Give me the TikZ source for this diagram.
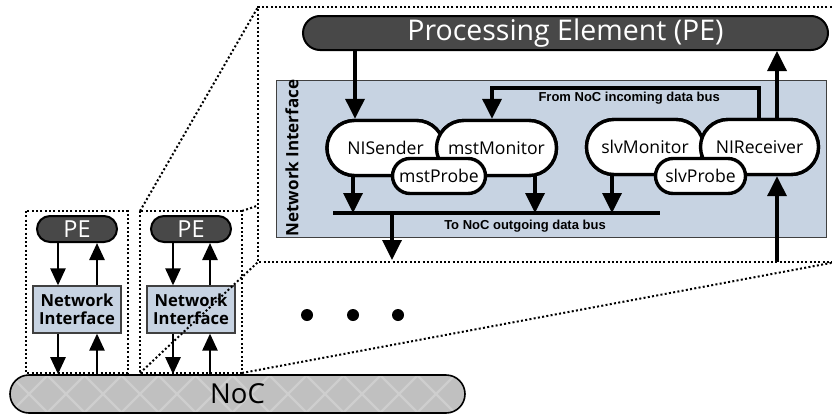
\documentclass[tikz,border=0pt]{standalone}
\usepackage{fontspec}
\setmainfont{Open Sans}
\newfontfamily\labelfont{Liberation Sans}
\usetikzlibrary{arrows.meta,shapes.misc}

\definecolor{pedark}{RGB}{72,72,72}
\definecolor{niblue}{RGB}{199,211,226}
\definecolor{nocgray}{RGB}{192,192,192}
\definecolor{nochatch}{RGB}{206,206,206}

\begin{document}
\begin{tikzpicture}[x=1pt,y=-1pt,
  dots/.style={line width=2pt,dash pattern=on 2pt off 2.3pt},
  pill/.style={rounded rectangle,draw=black,line width=3.4pt,fill=white,inner sep=0pt,
    font=\fontsize{17.6}{20}\selectfont},
  pebox/.style={rounded rectangle,draw=black,line width=2pt,fill=pedark,text=white,inner sep=0pt},
  nibox/.style={rectangle,draw=black!75,line width=1.2pt,fill=niblue,inner sep=0pt},
  bigarr/.style={line width=3.5pt,-{Triangle[width=19pt,length=20pt]}},
  smallarr/.style={line width=2.5pt,-{Triangle[width=15pt,length=17pt]}},
  buslabel/.style={font=\labelfont\bfseries\fontsize{13}{15}\selectfont,inner sep=0pt},
  smallni/.style={nibox,minimum width=88,minimum height=47,align=center,
    font=\bfseries\fontsize{16.6}{17.5}\selectfont},
  smallpe/.style={pebox,minimum width=80,minimum height=26,font=\fontsize{23.5}{25}\selectfont},
]
\clip (0,0) rectangle (832,415);

% zoom line running behind the enlarged view
\draw[dots] (242,211) -- (836,7);

% enlarged view of one tile
\fill[white] (258,7) rectangle (836,262);
\draw[dots] (836,7) -- (258,7) -- (258,262) -- (836,262);

\node[pebox,minimum width=525,minimum height=34,font=\fontsize{28.5}{30}\selectfont]
  (PE) at (565.5,33) {Processing Element (PE)};

\node[nibox,minimum width=550,minimum height=157,anchor=north west] (NI) at (276,80) {};
\node[rotate=90,font=\bfseries\fontsize{17}{19}\selectfont] (nilabel) at (292,158) {Network Interface};

% named positions of the connectors
\coordinate (busL) at (333,213);
\coordinate (busR) at (660,213);
\coordinate (xin) at (355,0);
\coordinate (fbR) at (759,88);
\coordinate (fbL) at (492,88);
\coordinate (xup) at (777,0);
\coordinate (inB) at (777,262);
\coordinate (d1) at (353,213);
\coordinate (d2) at (535,213);
\coordinate (d3) at (612,213);
\coordinate (busOut) at (392,260);

% pills are placed first so the connectors can refer to them
\path
  node[pill,minimum width=117,minimum height=55] (snd)  at (385.5,148) {NISender}
  node[pill,minimum width=120,minimum height=55] (mmon) at (496.5,148) {mstMonitor}
  node[pill,minimum width=117,minimum height=55] (smon) at (645,147) {slvMonitor}
  node[pill,minimum width=118,minimum height=55] (rcv)  at (759.5,147) {NIReceiver};

% data bus towards the NoC
\draw[line width=4.3pt] (busL) -- (busR);
\draw[bigarr] (PE.south -| xin) -- (snd.north -| xin);
\draw[bigarr] (rcv.center -| fbR) -- (fbR) -- (fbL) -- (mmon.north -| fbL);
\draw[bigarr] (rcv.center -| xup) -- (PE.south -| xup);
\draw[bigarr] (inB) -- (rcv.south -| inB);
\draw[bigarr] (snd.center -| d1) -- (d1);
\draw[bigarr] (mmon.center -| d2) -- (d2);
\draw[bigarr] (smon.center -| d3) -- (d3);
\draw[bigarr] (busOut |- busL) -- (busOut);

% pills drawn again on top of the connector stubs
\node[pill,minimum width=117,minimum height=55] (snd2)  at (snd)  {NISender};
\node[pill,minimum width=120,minimum height=55] (mmon2) at (mmon) {mstMonitor};
\node[pill,minimum width=93,minimum height=35] (mprb)  at (439,176) {mstProbe};
\node[pill,minimum width=117,minimum height=55] (smon2) at (smon) {slvMonitor};
\node[pill,minimum width=118,minimum height=55] (rcv2)  at (rcv)  {NIReceiver};
\node[pill,minimum width=90,minimum height=35] (sprb)  at (700.5,176) {slvProbe};

\node[buslabel,anchor=east] (fromlbl) at (720,98) {From NoC incoming data bus};
\node[buslabel] (tolbl) at (525,226) {To NoC outgoing data bus};

% the NoC
\node[rounded rectangle,draw=black,line width=1.6pt,fill=nocgray,inner sep=0pt,
  minimum width=455,minimum height=38,font=\fontsize{27.5}{30}\selectfont,
  path picture={
    \foreach \k in {-1,...,13}{
      \draw[nochatch,line width=2.4pt]
        ([xshift=\k*37pt]path picture bounding box.north west) -- ++(38,38);
      \draw[nochatch,line width=2.4pt]
        ([xshift=\k*37pt]path picture bounding box.south west) -- ++(38,-38);
    }}]
  (noc) at (237.5,394) {NoC};

% two tiles
\draw[dots] (26,211) rectangle (128,373);
\draw[dots] (140,211) rectangle (242,373);

\node[smallpe] (pe1) at (77,229) {PE};
\node[smallni] (ni1) at (77,309.5) {Network\\Interface};
\node[smallpe] (pe2) at (191,229) {PE};
\node[smallni] (ni2) at (191,309.5) {Network\\Interface};

\draw[smallarr] ([xshift=-19pt]pe1.south) -- ([xshift=-19pt]ni1.north);
\draw[smallarr] ([xshift=20pt]ni1.north) -- ([xshift=20pt]pe1.south);
\draw[smallarr] ([xshift=-19pt]ni1.south) -- ([xshift=-19pt]ni1.south |- noc.north);
\draw[smallarr] ([xshift=20pt]ni1.south |- noc.north) -- ([xshift=20pt]ni1.south);

\draw[smallarr] ([xshift=-18pt]pe2.south) -- ([xshift=-18pt]ni2.north);
\draw[smallarr] ([xshift=19pt]ni2.north) -- ([xshift=19pt]pe2.south);
\draw[smallarr] ([xshift=-18pt]ni2.south) -- ([xshift=-18pt]ni2.south |- noc.north);
\draw[smallarr] ([xshift=19pt]ni2.south |- noc.north) -- ([xshift=19pt]ni2.south);

% zoom lines in front
\draw[dots] (140,211) -- (258,7);
\draw[dots] (140,373) -- (258,262);
\draw[dots] (242,373) -- (836,262);

% ellipsis for further tiles
\fill (307,315) circle (6);
\fill (353,315) circle (6);
\fill (398,315) circle (6);
\end{tikzpicture}
\end{document}
